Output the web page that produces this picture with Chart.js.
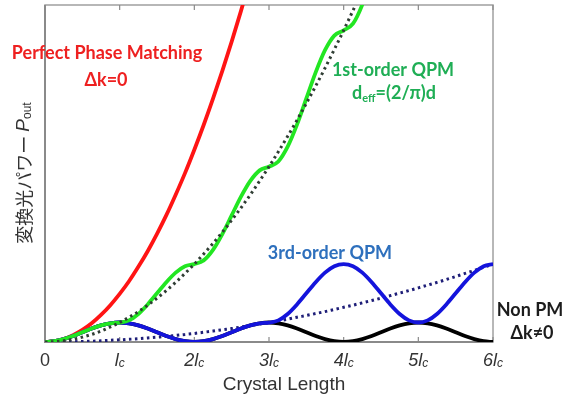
<!DOCTYPE html>
<html>
<head>
<meta charset="utf-8">
<script src="https://cdn.jsdelivr.net/npm/chart.js@4.4.1/dist/chart.umd.min.js"></script>
<style>
    html, body { margin: 0; padding: 0; background: #fff; }
    #caja { width: 566px; height: 399px; position: relative; }
</style>
</head>
<body>
<div id="caja"><canvas id="grafica"></canvas></div>
<script>
//Datos (longitud del cristal en unidades de lc, potencia relativa)
const longitudes = [0, 0.125, 0.25, 0.375, 0.5, 0.625, 0.75, 0.875, 1, 1.125, 1.25, 1.375, 1.5, 1.625, 1.75, 1.875,
    2, 2.125, 2.25, 2.375, 2.5, 2.625, 2.75, 2.875, 3, 3.125, 3.25, 3.375, 3.5, 3.625, 3.75, 3.875,
    4, 4.125, 4.25, 4.375, 4.5, 4.625, 4.75, 4.875, 5, 5.125, 5.25, 5.375, 5.5, 5.625, 5.75, 5.875, 6];

const potenciaPM = [0, 0.04, 0.15, 0.35, 0.62, 0.96, 1.39, 1.89, 2.47, 3.12, 3.86, 4.66, 5.55, 6.51, 7.56, 8.67,
    9.87, 11.14, 12.49, 13.92, 15.42, 17.0, 18.66, 20.39, 22.2];

const potenciaQPM1 = [0, 0.04, 0.15, 0.31, 0.5, 0.69, 0.85, 0.96, 1, 1.11, 1.44, 1.93, 2.5, 3.07, 3.56, 3.89,
    4, 4.19, 4.73, 5.54, 6.5, 7.46, 8.27, 8.81, 9, 9.27, 10.03, 11.16, 12.5, 13.84, 14.98, 15.73,
    16, 16.34, 17.32, 18.78, 20.5];

const tendenciaQPM1 = [0, 0.02, 0.06, 0.14, 0.25, 0.39, 0.56, 0.77, 1, 1.27, 1.56, 1.89, 2.25, 2.64, 3.06, 3.52,
    4, 4.52, 5.06, 5.64, 6.25, 6.89, 7.56, 8.27, 9, 9.77, 10.56, 11.39, 12.25, 13.14, 14.06, 15.02,
    16, 17.02, 18.06, 19.14, 20.25];

const potenciaQPM3 = [0, 0.04, 0.15, 0.31, 0.5, 0.69, 0.85, 0.96, 1, 0.96, 0.85, 0.69, 0.5, 0.31, 0.15, 0.04,
    0, 0.04, 0.15, 0.31, 0.5, 0.69, 0.85, 0.96, 1, 1.11, 1.44, 1.93, 2.5, 3.07, 3.56, 3.89,
    4, 3.89, 3.56, 3.07, 2.5, 1.93, 1.44, 1.11, 1, 1.11, 1.44, 1.93, 2.5, 3.07, 3.56, 3.89, 4];

const tendenciaQPM3 = [0, 0.002, 0.007, 0.016, 0.03, 0.04, 0.06, 0.09, 0.11, 0.14, 0.17, 0.21, 0.25, 0.29, 0.34, 0.39,
    0.44, 0.5, 0.56, 0.63, 0.69, 0.77, 0.84, 0.92, 1, 1.09, 1.17, 1.27, 1.36, 1.46, 1.56, 1.67,
    1.78, 1.89, 2.01, 2.13, 2.25, 2.38, 2.51, 2.64, 2.78, 2.92, 3.06, 3.21, 3.36, 3.52, 3.67, 3.84, 4];

const potenciaNoPM = [0, 0.04, 0.15, 0.31, 0.5, 0.69, 0.85, 0.96, 1, 0.96, 0.85, 0.69, 0.5, 0.31, 0.15, 0.04,
    0, 0.04, 0.15, 0.31, 0.5, 0.69, 0.85, 0.96, 1, 0.96, 0.85, 0.69, 0.5, 0.31, 0.15, 0.04,
    0, 0.04, 0.15, 0.31, 0.5, 0.69, 0.85, 0.96, 1, 0.96, 0.85, 0.69, 0.5, 0.31, 0.15, 0.04, 0];

const ticksX = [0, 1, 2, 3, 4, 5, 6];
const etiquetasX = ['0', 'lc', '2lc', '3lc', '4lc', '5lc', '6lc'];

const puntos = vals => vals.map((v, i) => ({ x: longitudes[i], y: v }));

function linea(vals, color, orden, punteada) {
    return {
        data: puntos(vals),
        borderColor: color,
        borderWidth: punteada ? 3 : 3.8,
        borderDash: punteada ? [2.5, 3.5] : [],
        pointRadius: 0,
        cubicInterpolationMode: 'monotone',
        fill: false,
        order: orden
    };
}

//Texto con partes de distinta fuente (subindices, cursiva)
function textoMixto(ctx, partes, x, y, color) {
    ctx.fillStyle = color;
    let ancho = 0;
    partes.forEach(p => { ctx.font = p[1]; ancho += ctx.measureText(p[0]).width; });
    let cx = x - ancho / 2;
    partes.forEach(p => {
        ctx.font = p[1];
        ctx.fillText(p[0], cx, y + (p[2] || 0));
        cx += ctx.measureText(p[0]).width;
    });
}

const marco = {
    id: 'marco',
    beforeDatasetsDraw(chart) {
        const { ctx, chartArea: a, scales: { x } } = chart;
        ctx.save();
        ctx.strokeStyle = '#a0a0a0';
        ctx.lineWidth = 1.5;
        ctx.strokeRect(a.left, a.top, a.right - a.left, a.bottom - a.top);
        ctx.strokeStyle = '#8a8a8a';
        ctx.lineWidth = 2;
        ctx.beginPath();
        ctx.moveTo(a.left, a.top);
        ctx.lineTo(a.left, a.bottom);
        ctx.lineTo(a.right, a.bottom);
        ctx.stroke();
        ctx.lineWidth = 1.2;
        ticksX.forEach(v => {
            const px = x.getPixelForValue(v);
            ctx.beginPath();
            ctx.moveTo(px, a.bottom);
            ctx.lineTo(px, a.bottom - 5);
            ctx.moveTo(px, a.top);
            ctx.lineTo(px, a.top + 5);
            ctx.stroke();
        });
        ctx.restore();
    },
    afterDraw(chart) {
        const { ctx, chartArea: a, scales: { x } } = chart;
        ctx.save();
        ctx.textBaseline = 'middle';

        //etiquetas del eje x
        etiquetasX.forEach((t, i) => {
            const px = x.getPixelForValue(ticksX[i]);
            if (t.endsWith('lc')) {
                textoMixto(ctx, [[t.slice(0, -1), 'italic 18px "Liberation Sans"'], ['c', 'italic 12px "Liberation Sans"', 3]], px, a.bottom + 19, '#333');
            } else {
                textoMixto(ctx, [[t, '18px "Liberation Sans"']], px, a.bottom + 19, '#333');
            }
        });
        textoMixto(ctx, [['Crystal Length', '19px "Liberation Sans"']], 284, 385, '#333');

        //titulo del eje y (rotado)
        ctx.save();
        ctx.translate(24, 173);
        ctx.rotate(-Math.PI / 2);
        textoMixto(ctx, [['変換光パワー ', '18px "Noto Sans CJK JP"'], ['P', 'italic 19px "Liberation Sans"'], ['out', '12px "Liberation Sans"', 4]], 0, 0, '#333');
        ctx.restore();

        //anotaciones
        textoMixto(ctx, [['Perfect Phase Matching', 'bold 18px Lato']], 107, 53, '#ee2020');
        textoMixto(ctx, [['Δk=0', 'bold 18px Lato']], 106, 80, '#ee2020');
        textoMixto(ctx, [['1st-order QPM', 'bold 18px Lato']], 393, 70, '#1fae55');
        textoMixto(ctx, [['d', 'bold 18px Lato'], ['eff', 'bold 11px Lato', 5], ['=(2/π)d', 'bold 18px Lato']], 394, 93, '#1fae55');
        textoMixto(ctx, [['3rd-order QPM', 'bold 18px Lato']], 330, 253, '#2e70bd');
        textoMixto(ctx, [['Non PM', 'bold 18px Lato']], 530, 310, '#1c1c1c');
        textoMixto(ctx, [['Δk≠0', 'bold 18px Lato']], 532, 333, '#1c1c1c');
        ctx.restore();
    }
};

//Grafica de lineas
const grafica = document.getElementById('grafica');

new Chart(grafica, {
    type: 'line',
    data: {
        datasets: [
            linea(tendenciaQPM1, '#2f3d33', 1, true),
            linea(potenciaQPM1, '#22e622', 2, false),
            linea(potenciaQPM3, '#1414dc', 3, false),
            linea(tendenciaQPM3, '#1e1e78', 4, true),
            linea(potenciaPM, '#ff1414', 5, false),
            linea(potenciaNoPM, '#000000', 6, false)
        ]
    },
    options: {
        responsive: true,
        maintainAspectRatio: false,
        animation: false,
        events: [],
        layout: {
            padding: { left: 45, right: 73, top: 5, bottom: 57 }
        },
        plugins: {
            legend: { display: false },
            tooltip: { enabled: false }
        },
        scales: {
            x: { type: 'linear', min: 0, max: 6, display: false },
            y: { min: 0, max: 17.3, display: false }
        }
    },
    plugins: [marco]
});
</script>
</body>
</html>
